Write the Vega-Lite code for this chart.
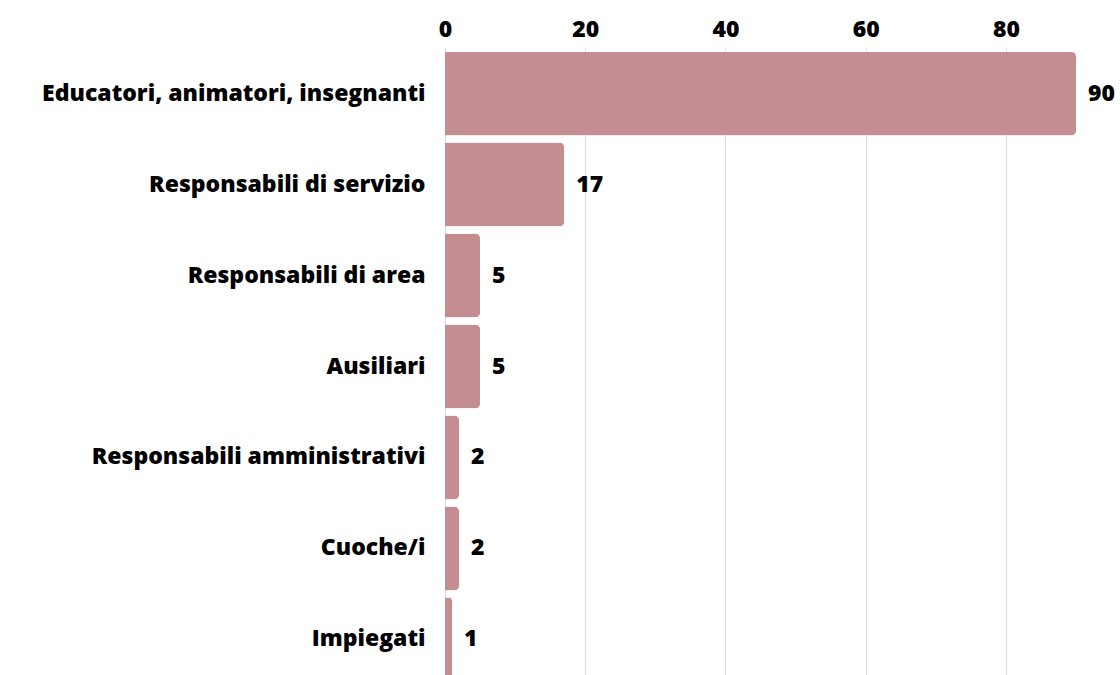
{
  "$schema": "https://vega.github.io/schema/vega-lite/v6.json",
  "autosize": "none",
  "width": 631,
  "height": 637,
  "padding": {"left": 445, "top": 48, "right": 44, "bottom": 0},
  "background": "white",
  "config": {"view": {"stroke": null}, "font": "Open Sans"},
  "data": {
    "values": [
      {"ruolo": "Educatori, animatori, insegnanti", "n": 90},
      {"ruolo": "Responsabili di servizio", "n": 17},
      {"ruolo": "Responsabili di area", "n": 5},
      {"ruolo": "Ausiliari", "n": 5},
      {"ruolo": "Responsabili amministrativi", "n": 2},
      {"ruolo": "Cuoche/i", "n": 2},
      {"ruolo": "Impiegati", "n": 1}
    ]
  },
  "encoding": {
    "y": {
      "field": "ruolo", "type": "nominal", "sort": null,
      "scale": {"paddingInner": 0.077, "paddingOuter": 0.04},
      "axis": {"title": null, "ticks": false, "domain": false, "labelPadding": 20, "labelLimit": 0, "labelFontSize": 23, "labelFontWeight": 800, "labelColor": "#000", "labelFont": "Open Sans"}
    },
    "x": {
      "field": "n", "type": "quantitative",
      "scale": {"domain": [0, 90], "nice": false},
      "axis": {"orient": "top", "title": null, "ticks": false, "domain": false, "values": [0, 20, 40, 60, 80], "labelPadding": 7, "labelFontSize": 23, "labelFontWeight": 800, "labelColor": "#000", "labelFont": "Open Sans", "gridColor": "#dddddd", "labelFlush": false}
    }
  },
  "layer": [
    {"mark": {"type": "bar", "color": "#c48d92", "cornerRadiusEnd": 5}},
    {"mark": {"type": "text", "align": "left", "baseline": "middle", "dx": 12, "fontSize": 23, "fontWeight": 800, "color": "#000", "font": "Open Sans"},
     "encoding": {"text": {"field": "n", "type": "quantitative"}}}
  ]
}
